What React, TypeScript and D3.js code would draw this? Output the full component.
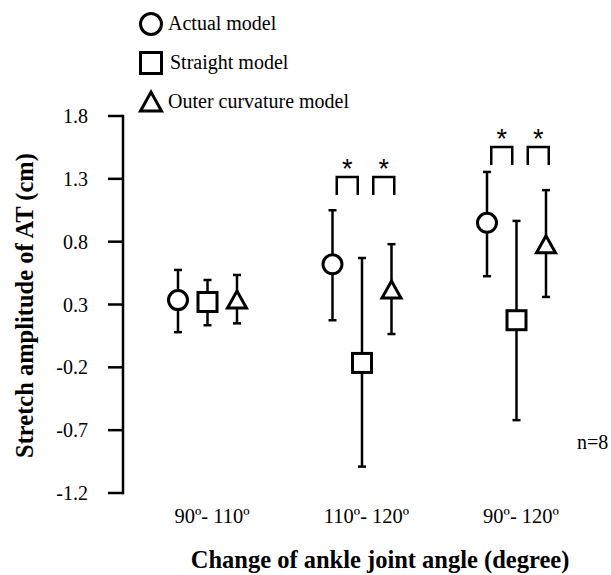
import React from "react";
import * as d3 from "d3";

const categories = ["90º- 110º", "110º- 120º", "90º- 120º"];
const seriesNames = ["Actual model", "Straight model", "Outer curvature model"];
const seriesShapes = ["circle", "square", "triangle"];
// mean values per series (rows) per category (cols)
const meanValues = [
  [0.335, 0.62, 0.95],
  [0.32, -0.165, 0.175],
  [0.335, 0.415, 0.775],
];
const upperValues = [
  [0.575, 1.05, 1.355],
  [0.495, 0.67, 0.965],
  [0.535, 0.78, 1.21],
];
const lowerValues = [
  [0.08, 0.175, 0.525],
  [0.135, -0.99, -0.62],
  [0.15, 0.065, 0.36],
];
const yTicks = [-1.2, -0.7, -0.2, 0.3, 0.8, 1.3, 1.8];
const yTickLabels = ["-1.2", "-0.7", "-0.2", "0.3", "0.8", "1.3", "1.8"];
// significance brackets: category index, series pair, level (y value)
const bracketCategory = [1, 1, 2, 2];
const bracketPairs = [[0, 1], [1, 2], [0, 1], [1, 2]];
const bracketLevels = [1.315, 1.315, 1.553, 1.553];

const W = 611;
const H = 575;
const FONT = "'Liberation Serif', 'Times New Roman', serif";

function Marker({ shape, x, y, s }: { shape: string; x: number; y: number; s: number }) {
  const common = { fill: "white", stroke: "black", strokeWidth: 3 };
  if (shape === "circle") return <circle cx={x} cy={y} r={s * 0.5} {...common} />;
  if (shape === "square")
    return <rect x={x - s / 2} y={y - s / 2} width={s} height={s} {...common} />;
  return (
    <path
      d={`M${x - s / 2},${y + s / 2 - 1.5}L${x},${y - s / 2 + 0.5}L${x + s / 2},${y + s / 2 - 1.5}Z`}
      {...common}
      strokeLinejoin="miter"
    />
  );
}

export default function App() {
  const y = d3.scaleLinear().domain([-1.2, 1.8]).range([493, 116]);
  const x = d3.scalePoint<string>().domain(categories).range([208, 517]);
  const off = d3.scalePoint<string>().domain(seriesNames).range([-30, 29]);
  const axisX = 123;
  const bracketShift = [0, 7];

  return (
    <svg
      width={W}
      height={H}
      style={{ position: "absolute", left: 0, top: 0, background: "white" }}
      fontFamily={FONT}
    >
      <rect width={W} height={H} fill="white" />
      {/* Y axis */}
      <line x1={axisX} x2={axisX} y1={y(1.8) - 1.25} y2={y(-1.2) + 1.25} stroke="black" strokeWidth={2.5} />
      {yTicks.map((t, i) => (
        <g key={t}>
          <line x1={axisX - 15} x2={axisX} y1={y(t)} y2={y(t)} stroke="black" strokeWidth={2.5} />
          <text x={88} y={y(t)} dy="0.35em" textAnchor="end" fontSize={20}>
            {yTickLabels[i]}
          </text>
        </g>
      ))}
      <text
        transform={`translate(33,${(y(1.8) + y(-1.2)) / 2 + 1}) rotate(-90)`}
        textAnchor="middle"
        fontSize={24.5}
        fontWeight="bold"
      >
        Stretch amplitude of AT (cm)
      </text>

      {/* X labels */}
      {categories.map((c) => (
        <text key={c} x={(x(c) as number) + 4} y={523} textAnchor="middle" fontSize={20.5}>
          {c}
        </text>
      ))}
      <text x={380} y={568} textAnchor="middle" fontSize={24.5} fontWeight="bold">
        Change of ankle joint angle (degree)
      </text>

      {/* error bars and markers */}
      {seriesNames.map((sn, si) =>
        categories.map((c, ci) => {
          const cx = (x(c) as number) + (off(sn) as number);
          return (
            <g key={sn + c}>
              <line x1={cx} x2={cx} y1={y(upperValues[si][ci])} y2={y(lowerValues[si][ci])} stroke="black" strokeWidth={2.5} />
              <line x1={cx - 4} x2={cx + 4} y1={y(upperValues[si][ci])} y2={y(upperValues[si][ci])} stroke="black" strokeWidth={2.5} />
              <line x1={cx - 4} x2={cx + 4} y1={y(lowerValues[si][ci])} y2={y(lowerValues[si][ci])} stroke="black" strokeWidth={2.5} />
              <Marker shape={seriesShapes[si]} x={cx} y={y(meanValues[si][ci])} s={19} />
            </g>
          );
        })
      )}

      {/* significance brackets */}
      {bracketCategory.map((ci, bi) => {
        const [a, b] = bracketPairs[bi];
        const cx = x(categories[ci]) as number;
        const mid = cx + ((off(seriesNames[a]) as number) + (off(seriesNames[b]) as number)) / 2 + bracketShift[bi % 2];
        const top = y(bracketLevels[bi]);
        return (
          <g key={bi}>
            <path
              d={`M${mid - 10.5},${top + 18}V${top}H${mid + 10.5}V${top + 18}`}
              fill="none"
              stroke="black"
              strokeWidth={2.5}
            />
            <text x={mid} y={top + 1} textAnchor="middle" fontSize={27} fontFamily="'Liberation Sans', Arial, sans-serif">
              *
            </text>
          </g>
        );
      })}

      {/* legend */}
      {seriesNames.map((sn, i) => {
        const ly = [24, 63, 102][i];
        return (
          <g key={sn}>
            <Marker shape={seriesShapes[i]} x={151} y={ly} s={21} />
            <text x={i === 1 ? 170 : 168} y={ly + 6} fontSize={20}>
              {sn}
            </text>
          </g>
        );
      })}

      <text x={577} y={449} fontSize={20}>
        n=8
      </text>
    </svg>
  );
}
